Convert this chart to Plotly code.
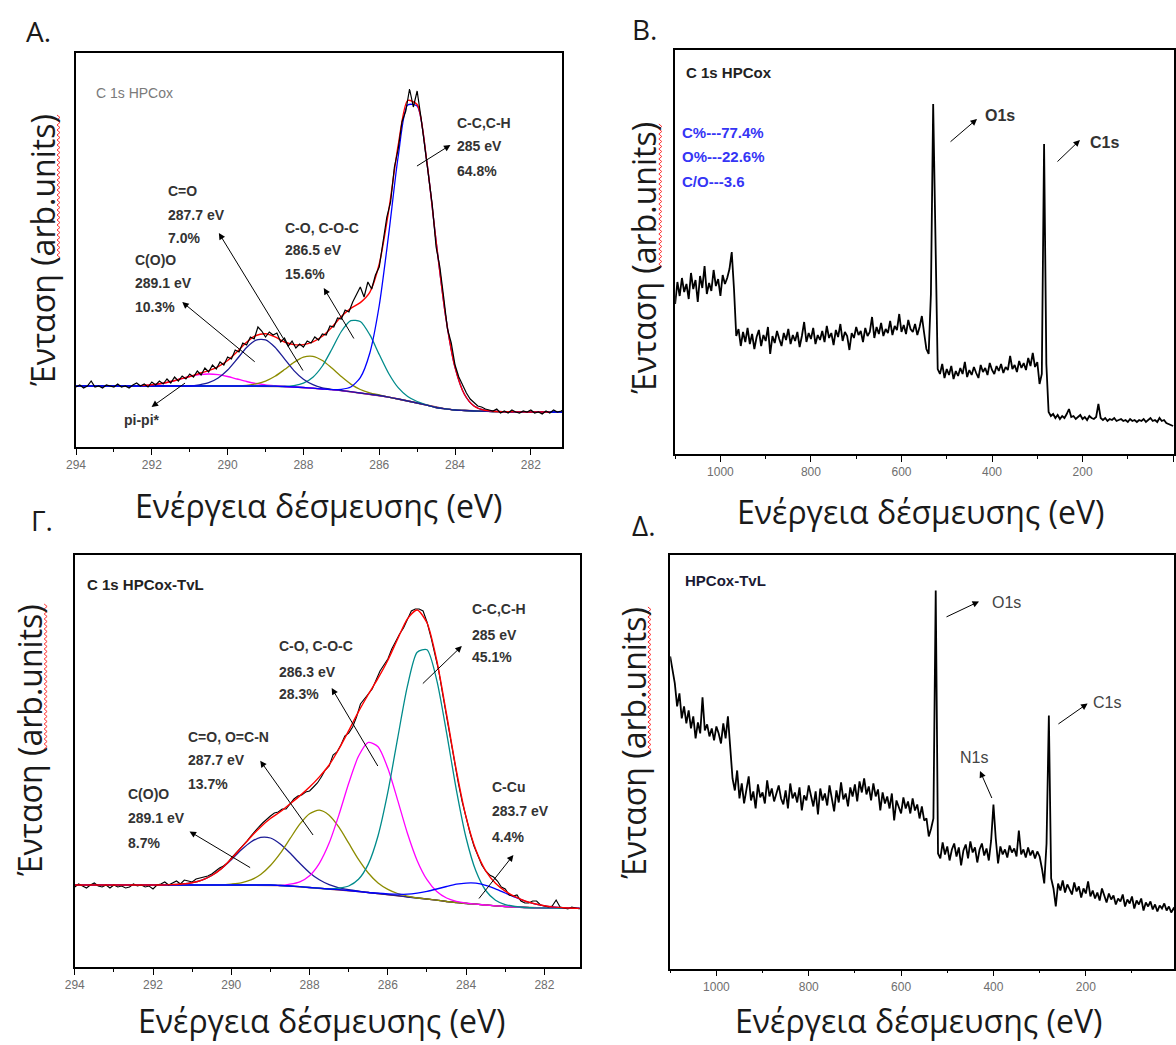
import plotly.graph_objects as go

W, H = 1176, 1045
def px(x): return x / W
def py(y): return 1 - y / H

# ---------------- C1s fit grid (eV) ----------------
FIT_E = [294.0, 293.75, 293.5, 293.25, 293.0, 292.75, 292.5, 292.25, 292.0, 291.75,
         291.5, 291.25, 291.0, 290.75, 290.5, 290.25, 290.0, 289.75, 289.5, 289.25,
         289.0, 288.75, 288.5, 288.25, 288.0, 287.75, 287.5, 287.25, 287.0, 286.75,
         286.5, 286.25, 286.0, 285.75, 285.5, 285.25, 285.0, 284.75, 284.5, 284.25,
         284.0, 283.75, 283.5, 283.25, 283.0, 282.75, 282.5, 282.25, 282.0, 281.75,
         281.5, 281.25, 281.0]

# Panel A (HPCox) : Shirley background and component heights above it
A_BG = [61]*21 + [60.8, 60.5, 60, 59.5, 58.8, 58, 57.3, 56.5, 55.3, 54, 52.8, 51.5, 49.8, 48,
                  46, 44, 41.8, 39.5, 38.2, 37, 36.5, 36, 35.7, 35.5, 35.3, 35.2, 35.1] + [35]*5
A_PIPI = [0]*7 + [0.5, 1.2, 2.5, 4.5, 7, 9.5, 11.3, 12, 11.3, 9.5, 7, 4.5, 2.5, 1.2, 0.5] + [0]*31
A_COO = [0]*13 + [1.2, 3.3, 8, 16, 27, 38.5, 45.9, 46.1, 38.9, 27.6, 16.4, 8.2, 3.5, 1.2, 0.4] + [0]*25
A_CEO = [0]*17 + [0.2, 0.7, 2.1, 4.9, 9.9, 16.9, 24.6, 30.4, 31.9, 28.5, 21.6, 13.9, 7.6, 3.5, 1.4, 0.5] + [0]*20
A_CO = [0]*23 + [1.4, 4.3, 11, 23, 40.5, 59, 71, 71.5, 59.5, 41, 23.7, 11.3, 4.5, 1.5, 0.4] + [0]*15
A_CC = [0]*28 + [1.2, 4.7, 15.4, 41, 90, 163, 242.5, 296, 297, 245, 166.5, 93, 42.6, 16, 5, 1.3, 0.3] + [0]*8
A_FIT_RANGE = (292.25, 281.5)

# Panel Γ (HPCox-TvL)
G_BG = [82]*21 + [81.5, 81, 80.3, 79.5, 78.8, 78, 77.3, 76.5, 75.5, 74.5, 73.5, 72.5, 71.3, 70, 69,
                  68, 66.8, 65.5, 64.5, 63.5, 62.8, 62, 61.2, 60.5, 60, 59.5, 59.2, 59, 58.8, 58.7,
                  58.6, 58.5]
G_COO = [0]*10 + [0.4, 1.0, 2.3, 4.9, 9.5, 16.4, 25.3, 34.9, 43, 47.6, 47.0, 41.6, 33, 23.4, 14.8,
                  8.4, 4.3, 1.9, 0.8, 0.3] + [0]*23
G_CEO = [0]*16 + [0.9, 2.2, 5.1, 10.5, 19.5, 32.1, 47.3, 62.5, 73.8, 78, 73.8, 62.5, 47.3, 32.1,
                  19.5, 10.5, 5.1, 2.2, 0.9] + [0]*18
G_CO = [0]*22 + [1.8, 4.9, 11.8, 24.9, 45.9, 74.8, 107.2, 135.2, 150.1, 146.7, 126.2, 95.6, 63.7,
                 37.3, 19.3, 8.7, 3.5, 1.2, 0.4] + [0]*12
G_CC = [0]*27 + [1.5, 4.5, 12.2, 28.4, 57.8, 102.3, 157.4, 210.8, 245.8, 249.2, 219.9, 168.8, 112.7,
                 65.5, 33.1, 14.5, 5.6, 1.9, 0.5] + [0]*7
G_CCU = [0]*31 + [0.3, 0.7, 1.5, 2.8, 4.9, 7.7, 11.2, 15, 18.3, 20.4, 21, 19.7, 17, 13.5, 9.8, 6.5,
                  4.0, 2.2, 1.1, 0.5, 0.2, 0.1]

# ---------------- measured C1s spectra ----------------
RAW_E = [294.0, 293.9, 293.8, 293.7, 293.6, 293.5, 293.4, 293.3, 293.2, 293.1,
         293.0, 292.9, 292.8, 292.7, 292.6, 292.5, 292.4, 292.3, 292.2, 292.1,
         292.0, 291.9, 291.8, 291.7, 291.6, 291.5, 291.4, 291.3, 291.2, 291.1,
         291.0, 290.9, 290.8, 290.7, 290.6, 290.5, 290.4, 290.3, 290.2, 290.1,
         290.0, 289.9, 289.8, 289.7, 289.6, 289.5, 289.4, 289.3, 289.2, 289.1,
         289.0, 288.9, 288.8, 288.7, 288.6, 288.5, 288.4, 288.3, 288.2, 288.1,
         288.0, 287.9, 287.8, 287.7, 287.6, 287.5, 287.4, 287.3, 287.2, 287.1,
         287.0, 286.9, 286.8, 286.7, 286.6, 286.5, 286.4, 286.3, 286.2, 286.1,
         286.0, 285.9, 285.8, 285.7, 285.6, 285.5, 285.4, 285.3, 285.2, 285.1,
         285.0, 284.9, 284.8, 284.7, 284.6, 284.5, 284.4, 284.3, 284.2, 284.1,
         284.0, 283.9, 283.8, 283.7, 283.6, 283.5, 283.4, 283.3, 283.2, 283.1,
         283.0, 282.9, 282.8, 282.7, 282.6, 282.5, 282.4, 282.3, 282.2, 282.1,
         282.0, 281.9, 281.8, 281.7, 281.6, 281.5, 281.4, 281.3, 281.2, 281.1,
         281.0]
A_RAW = [60, 62, 59, 61, 66, 60, 61, 59, 62, 61, 60, 63, 60, 61, 59, 62, 64, 61, 63, 60,
         65, 62, 66, 63, 68, 64, 70, 66, 71, 68, 73, 70, 76, 72, 79, 75, 82, 78, 85, 82,
         90, 88, 97, 95, 104, 102, 110, 108, 120, 116, 110, 115, 112, 114, 105, 109, 101, 106, 99, 103,
         100, 106, 104, 110, 107, 113, 112, 121, 120, 129, 128, 137, 135, 145, 152, 160, 150, 165, 158, 172,
         180, 205, 230, 245, 280, 298, 325, 336, 358, 340, 356, 330, 300, 268, 242, 200, 180, 150, 118, 104,
         82, 70, 62, 54, 48, 44, 41, 40, 38, 37, 36, 38, 34, 36, 34, 37, 35, 34, 36, 35,
         37, 34, 35, 33, 36, 34, 37, 35, 36, 38, 36]
G_RAW = [80, 83, 81, 79, 82, 84, 81, 80, 82, 79, 82, 80, 81, 79, 80, 83, 81, 82, 80, 81,
         78, 82, 83, 85, 82, 84, 86, 83, 87, 86, 85, 88, 89, 90, 91, 93, 96, 99, 101, 104,
         109, 113, 117, 121, 126, 131, 136, 140, 144, 148, 151, 154, 155, 158, 158, 163, 168, 171, 172, 175,
         176, 180, 184, 190, 197, 201, 212, 215, 222, 231, 234, 240, 250, 263, 268, 272, 278, 287, 296, 302,
         308, 318, 326, 333, 339, 347, 356, 358, 358, 356, 345, 330, 314, 296, 273, 250, 228, 206, 184, 165,
         148, 134, 121, 111, 102, 96, 92, 90, 86, 80, 78, 72, 71, 72, 66, 64, 64, 66, 66, 62,
         61, 60, 61, 67, 60, 59, 58, 60, 59, 58, 59]

# ---------------- survey spectra ----------------
SURVEY_E = [1100, 1095, 1090, 1085, 1080, 1075, 1070, 1065, 1060, 1055,
            1050, 1045, 1040, 1035, 1030, 1025, 1020, 1015, 1010, 1005,
            1000, 995, 990, 985, 980, 975, 970, 965, 960, 955,
            950, 945, 940, 935, 930, 925, 920, 915, 910, 905,
            900, 895, 890, 885, 880, 875, 870, 865, 860, 855,
            850, 845, 840, 835, 830, 825, 820, 815, 810, 805,
            800, 795, 790, 785, 780, 775, 770, 765, 760, 755,
            750, 745, 740, 735, 730, 725, 720, 715, 710, 705,
            700, 695, 690, 685, 680, 675, 670, 665, 660, 655,
            650, 645, 640, 635, 630, 625, 620, 615, 610, 605,
            600, 595, 590, 585, 580, 575, 570, 565, 560, 555,
            550, 545, 540, 535, 530, 525, 520, 515, 510, 505,
            500, 495, 490, 485, 480, 475, 470, 465, 460, 455,
            450, 445, 440, 435, 430, 425, 420, 415, 410, 405,
            400, 395, 390, 385, 380, 375, 370, 365, 360, 355,
            350, 345, 340, 335, 330, 325, 320, 315, 310, 305,
            300, 295, 290, 285, 280, 275, 270, 265, 260, 255,
            250, 245, 240, 235, 230, 225, 220, 215, 210, 205,
            200, 195, 190, 185, 180, 175, 170, 165, 160, 155,
            150, 145, 140, 135, 130, 125, 120, 115, 110, 105,
            100, 95, 90, 85, 80, 75, 70, 65, 60, 55,
            50, 45, 40, 35, 30, 25, 20, 15, 10, 5,
            0]
B_COUNTS = [150, 172, 158, 176, 162, 170, 155, 181, 165, 174,
            152, 178, 166, 188, 160, 171, 163, 184, 168, 175,
            158, 179, 170, 176, 185, 202, 165, 118, 125, 108,
            122, 112, 126, 110, 120, 105, 117, 124, 108, 119,
            113, 127, 100, 118, 111, 123, 115, 108, 121, 114,
            125, 110, 119, 113, 122, 107, 118, 132, 112, 121,
            115, 126, 110, 119, 114, 123, 112, 128, 116, 121,
            109, 124, 117, 130, 113, 122, 118, 104, 121, 116,
            127, 119, 123, 112, 126, 118, 122, 137, 116, 127,
            120, 131, 118, 125, 121, 133, 119, 128, 124, 140,
            122, 129, 120, 134, 125, 122, 130, 119, 127, 138,
            121, 105, 100, 160, 350, 200, 85, 80, 90, 76,
            85, 79, 88, 75, 83, 78, 86, 80, 92, 77,
            84, 79, 87, 81, 76, 89, 82, 86, 79, 91,
            84, 80, 88, 83, 90, 81, 87, 84, 98, 85,
            89, 82, 93, 86, 91, 84, 96, 88, 101, 87,
            92, 70, 80, 310, 90, 42, 38, 40, 36, 39,
            35, 38, 36, 40, 45, 37, 38, 35, 37, 39,
            35, 37, 34, 38, 36, 35, 37, 50, 36, 34,
            36, 33, 35, 34, 36, 33, 34, 35, 33, 34,
            32, 35, 33, 34, 32, 34, 33, 35, 32, 34,
            36, 33, 34, 32, 36, 33, 34, 31, 30, 29,
            28]
D_COUNTS = [312, 298, 285, 262, 275, 250, 262, 245, 258, 240,
            252, 230, 246, 235, 271, 238, 244, 232, 240, 228,
            242, 235, 225, 245, 230, 252, 222, 190, 178, 198,
            170, 185, 165, 180, 192, 168, 177, 160, 184, 171,
            176, 165, 188, 172, 180, 167, 174, 183, 170, 164,
            178, 160, 185, 170, 176, 166, 181, 158, 173, 168,
            183, 172, 162, 177, 154, 180, 168, 175, 163, 183,
            170, 157, 178, 166, 186, 169, 175, 162, 181, 172,
            184, 167, 187, 176, 190, 174, 182, 168, 185, 172,
            179, 158, 176, 165, 172, 160, 175, 148, 168, 162,
            155, 171, 160, 167, 155, 170, 158, 164, 150, 162,
            148, 150, 132, 140, 150, 378, 115, 110, 126, 114,
            122, 108, 119, 125, 112, 121, 103, 118, 124, 110,
            127, 116, 121, 106, 119, 125, 113, 120, 108, 128,
            164, 130, 105, 122, 114, 119, 111, 123, 116, 120,
            112, 138, 114, 119, 111, 121, 113, 118, 110, 117,
            112, 100, 85, 125, 253, 90, 80, 62, 85, 78,
            88, 76, 84, 79, 74, 86, 77, 82, 71, 80,
            75, 87, 72, 78, 70, 76, 68, 80, 72, 66,
            75, 69, 73, 64, 70, 67, 74, 62, 69, 65,
            72, 60, 68, 64, 70, 58, 66, 62, 67, 59,
            64, 57, 63, 60, 65, 58, 62, 56, 60, 57,
            59]

# ---------------- colours ----------------
BLACK = "#000000"
RED = "#ff0000"
BGC = "#9b2d2d"
BLUE = "#0000ff"
NAVY = "#1c1c96"
TEAL = "#008b8b"
OLIVE = "#8c8c00"
MAGENTA = "#ff00ff"

fig = go.Figure()

def line(xs, ys, color, width, ax, shape="linear"):
    fig.add_trace(go.Scatter(
        x=xs, y=ys, mode="lines",
        line=dict(color=color, width=width, shape=shape, smoothing=0.7 if shape == "spline" else None),
        xaxis="x" + ax, yaxis="y" + ax, showlegend=False, hoverinfo="skip"))

def comp(bg, net):
    return [b + n for b, n in zip(bg, net)]

# ---- Panel A ----
A_COMPONENTS = [(A_PIPI, MAGENTA), (A_CEO, OLIVE), (A_CO, TEAL), (A_COO, NAVY), (A_CC, BLUE)]
line(FIT_E, A_BG, BGC, 1.3, "")
for net, col in A_COMPONENTS:
    line(FIT_E, comp(A_BG, net), col, 1.3, "", "spline")
a_env = [b + sum(v) for b, v in zip(A_BG, zip(*[c[0] for c in A_COMPONENTS]))]
env_x = [e for e in FIT_E if A_FIT_RANGE[1] <= e <= A_FIT_RANGE[0]]
env_y = [v for e, v in zip(FIT_E, a_env) if A_FIT_RANGE[1] <= e <= A_FIT_RANGE[0]]
line(env_x, env_y, RED, 1.4, "", "spline")
line(RAW_E, A_RAW, BLACK, 1.2, "")

# ---- Panel B ----
line(SURVEY_E, B_COUNTS, BLACK, 1.8, "2")

# ---- Panel Γ ----
G_COMPONENTS = [(G_COO, NAVY), (G_CEO, OLIVE), (G_CO, MAGENTA), (G_CC, TEAL), (G_CCU, BLUE)]
line(FIT_E, G_BG, BGC, 1.3, "3")
for net, col in G_COMPONENTS:
    line(FIT_E, comp(G_BG, net), col, 1.3, "3", "spline")
line(RAW_E, G_RAW, BLACK, 1.1, "3")
g_env = [b + sum(v) for b, v in zip(G_BG, zip(*[c[0] for c in G_COMPONENTS]))]
line(FIT_E, g_env, RED, 1.4, "3", "spline")

# ---- Panel Δ ----
line(SURVEY_E, D_COUNTS, BLACK, 1.8, "4")

# ---------------- axes ----------------
TICKFONT = dict(family="Liberation Sans", size=12, color="#6e6e6e")
def xax(domain, rng, dtick, mdtick, anchor):
    return dict(domain=domain, range=rng, anchor=anchor, showline=True, mirror=True,
                linecolor="black", linewidth=1.6, ticks="outside", ticklen=6, tickwidth=1,
                tickcolor="black", dtick=dtick, tick0=0, showgrid=False, zeroline=False,
                tickfont=TICKFONT,
                minor=dict(ticks="outside", ticklen=3, dtick=mdtick, tick0=0,
                           tickcolor="black", showgrid=False))
def yax(domain, rng, anchor):
    return dict(domain=domain, range=rng, anchor=anchor, showline=True, mirror=True,
                linecolor="black", linewidth=1.6, ticks="", showticklabels=False,
                showgrid=False, zeroline=False)

fig.update_layout(
    width=W, height=H, margin=dict(l=0, r=0, t=0, b=0),
    paper_bgcolor="white", plot_bgcolor="white",
    xaxis=xax([px(66.7), px(558)], [294, 281.17], 2, 1, "y"),
    yaxis=yax([py(447), py(53)], [0, 394], "x"),
    xaxis2=xax([px(672), 1.0], [1100, -2], 200, 100, "y2"),
    yaxis2=yax([py(454), py(50)], [0, 404], "x2"),
    xaxis3=xax([px(65.4), px(575.5)], [294, 281.1], 2, 1, "y3"),
    yaxis3=yax([py(967), py(555.4)], [0, 411.6], "x3"),
    xaxis4=xax([px(667), 1.0], [1100, 9], 200, 100, "y4"),
    yaxis4=yax([py(968.5), py(555.4)], [0, 413], "x4"),
)

# ---------------- text ----------------
ann = []
TITLE_FONT = "Open Sans"
def text(x, y, s, size=14, color="#333333", family="Liberation Sans", xanchor="left", angle=0):
    ann.append(dict(x=px(x), y=py(y), xref="paper", yref="paper", text=s, showarrow=False,
                    xanchor=xanchor, yanchor="middle", textangle=angle,
                    font=dict(family=family, size=size, color=color)))
def arrow(hx, hy, tx, ty):
    ann.append(dict(x=px(hx), y=py(hy), xref="paper", yref="paper", text="", showarrow=True,
                    ax=tx - hx, ay=ty - hy, arrowhead=2, arrowsize=1.3, arrowwidth=1,
                    arrowcolor="black", standoff=0, startstandoff=0))

# panel letters
for lx, ly, s in [(14, 31, "A."), (626, 29, "B."), (19, 520, "Γ."), (626, 525, "Δ.")]:
    text(lx, ly, s, size=28, color="#1a1a1a", family=TITLE_FONT)
# axis titles
XT = "Ενέργεια δέσμευσης (eV)"
YT = "Ένταση (arb.units)"
for cx, cy in [(312, 506), (920, 511), (315, 1020), (918, 1020)]:
    text(cx, cy, XT, size=32, color="#1a1a1a", family=TITLE_FONT, xanchor="center")
for cx, cy in [(32, 250), (640, 258), (19, 740), (629, 743)]:
    text(cx, cy, YT, size=32, color="#1a1a1a", family=TITLE_FONT, xanchor="center", angle=-90)

# Panel A labels
text(85, 93, "C 1s HPCox", size=14, color="#7a7a7a")
for x0, ys, lines in [(450, (123, 146, 171), ("C-C,C-H", "285 eV", "64.8%")),
                      (158, (191, 215, 238), ("C=O", "287.7 eV", "7.0%")),
                      (276, (228, 250, 274), ("C-O, C-O-C", "286.5 eV", "15.6%")),
                      (124, (260, 283, 307), ("C(O)O", "289.1 eV", "10.3%"))]:
    for yy, s in zip(ys, lines):
        text(x0, yy, "<b>" + s + "</b>", size=14)
text(113, 420, "<b>pi-pi*</b>", size=14)
arrow(445, 145, 410, 167)
arrow(211, 233, 296, 372)
arrow(174, 302, 248, 363)
arrow(317, 288, 348, 340)
arrow(143, 407, 178, 382)

# Panel B labels
text(681, 73, "<b>C 1s HPCox</b>", size=15, color="#222222")
for yy, s in [(133, "C%---77.4%"), (157, "O%---22.6%"), (182, "C/O---3.6")]:
    text(677, yy, "<b>" + s + "</b>", size=15, color="#3535f5")
text(983, 115, "<b>O1s</b>", size=16, color="#333333")
text(1089, 142, "<b>C1s</b>", size=16, color="#333333")
arrow(977, 119, 949, 143)
arrow(1081, 140, 1057, 163)

# Panel Γ labels
text(76, 584, "<b>C 1s HPCox-TvL</b>", size=15, color="#222222")
for x0, ys, lines in [(465, (609, 634.5, 657), ("C-C,C-H", "285 eV", "45.1%")),
                      (269.5, (646, 671.5, 694), ("C-O, C-O-C", "286.3 eV", "28.3%")),
                      (178, (736.5, 760, 784), ("C=O, O=C-N", "287.7 eV", "13.7%")),
                      (117, (794, 818, 843), ("C(O)O", "289.1 eV", "8.7%")),
                      (485, (787, 811, 836.5), ("C-Cu", "283.7 eV", "4.4%"))]:
    for yy, s in zip(ys, lines):
        text(x0, yy, "<b>" + s + "</b>", size=14)
arrow(456.5, 646, 416, 685)
arrow(325, 688, 372, 767.5)
arrow(252.8, 760.7, 306.7, 836.5)
arrow(181.4, 831.4, 243.5, 868.5)
arrow(508.6, 855, 473, 900)

# Panel Δ labels
text(680, 580, "<b>HPCox-TvL</b>", size=15, color="#1a1a33")
text(990, 602.5, "O1s", size=16, color="#444444")
text(1092, 702, "C1s", size=16, color="#444444")
text(958, 757, "N1s", size=16, color="#444444")
arrow(979, 601.5, 945, 617.6)
arrow(1088.7, 703.5, 1058, 725)
arrow(980, 771, 992.5, 799.5)

fig.update_layout(annotations=ann)

# red wavy spell-check underline beside "arb.units"
shapes = []
for x0, y0, y1 in [(49, 115, 262), (657, 124, 270), (36, 604, 750), (646, 607, 753)]:
    pts = []
    y = y0
    k = 0
    while y <= y1:
        xx = x0 + (1.5 if k % 2 else -1.5)
        pts.append(("M" if k == 0 else "L") + f" {px(xx):.5f},{py(y):.5f}")
        y += 2.5
        k += 1
    shapes.append(dict(type="path", xref="paper", yref="paper", path=" ".join(pts),
                       line=dict(color="#ff3030", width=1)))
fig.update_layout(shapes=shapes)

fig.write_html("out.html")
